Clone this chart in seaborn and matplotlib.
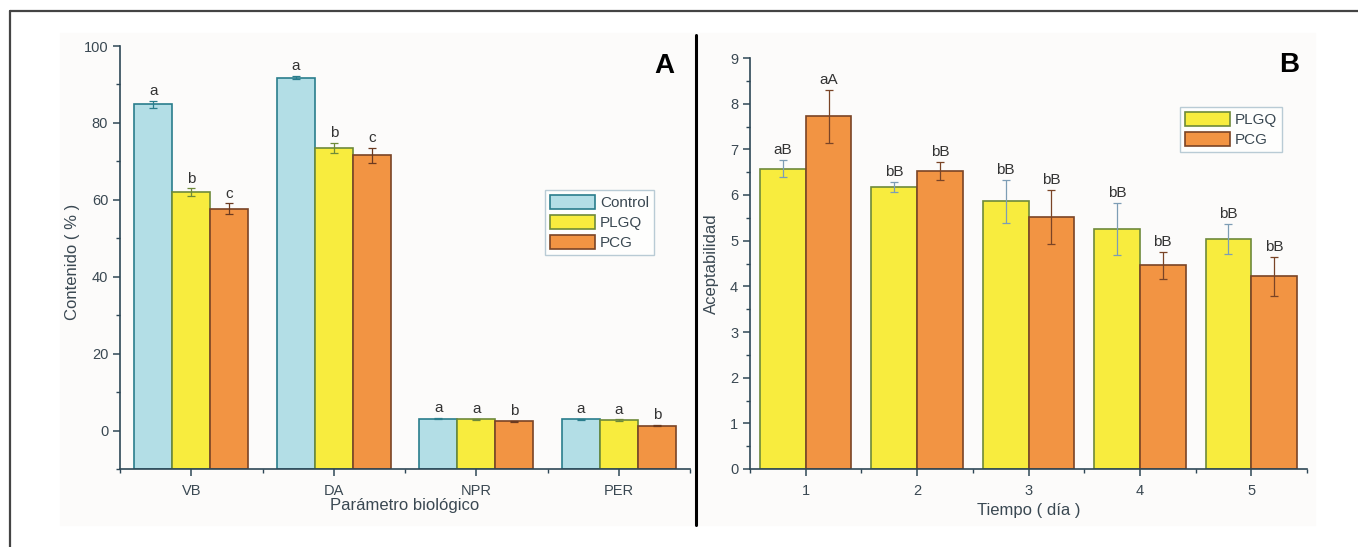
import numpy as np
import pandas as pd
import matplotlib.pyplot as plt
import seaborn as sns
from matplotlib.patches import Patch, Rectangle
from matplotlib.lines import Line2D
from matplotlib.ticker import MultipleLocator, FixedLocator

# ---- panel A: parametros biologicos
parametros = ['VB', 'DA', 'NPR', 'PER']
grupos_a = ['Control', 'PLGQ', 'PCG']
control = [84.8, 91.8, 3.1, 2.9]
control_err = [1.0, 0.5, 0.2, 0.2]
plgq_a = [62.0, 73.6, 2.9, 2.7]
plgq_a_err = [1.0, 1.3, 0.2, 0.2]
pcg_a = [57.7, 71.6, 2.4, 1.3]
pcg_a_err = [1.4, 2.0, 0.2, 0.2]
letras_control = ['a', 'a', 'a', 'a']
letras_plgq_a = ['b', 'b', 'a', 'a']
letras_pcg_a = ['c', 'c', 'b', 'b']

# ---- panel B: aceptabilidad por dia
dias = ['1', '2', '3', '4', '5']
grupos_b = ['PLGQ', 'PCG']
plgq_b = [6.58, 6.18, 5.86, 5.26, 5.03]
plgq_b_err = [0.19, 0.11, 0.47, 0.57, 0.33]
pcg_b = [7.72, 6.52, 5.52, 4.46, 4.22]
pcg_b_err = [0.58, 0.20, 0.60, 0.30, 0.43]
letras_plgq_b = ['aB', 'bB', 'bB', 'bB', 'bB']
letras_pcg_b = ['aA', 'bB', 'bB', 'bB', 'bB']

relleno = {'Control': '#b3dee6', 'PLGQ': '#f8ec3e', 'PCG': '#f29443'}
borde = {'Control': '#2a7d8c', 'PLGQ': '#6e8a3a', 'PCG': '#7a4426'}
eje = '#2e4756'
texto = '#3a4852'

sns.set_style('ticks')
plt.rcParams['font.family'] = ['Liberation Sans', 'DejaVu Sans']

df_a = pd.DataFrame({
    'parametro': parametros * 3,
    'grupo': ['Control'] * 4 + ['PLGQ'] * 4 + ['PCG'] * 4,
    'valor': control + plgq_a + pcg_a,
})
df_b = pd.DataFrame({
    'dia': dias * 2,
    'grupo': ['PLGQ'] * 5 + ['PCG'] * 5,
    'valor': plgq_b + pcg_b,
})

fig = plt.figure(figsize=(13.58, 5.47), dpi=100)
W, H = 1358, 547

# fondo muy claro de los paneles y marco exterior
fig.patches.append(Rectangle((60 / W, 1 - 525 / H), 635 / W, 492 / H,
                             transform=fig.transFigure, color='#fcfbfa', zorder=-5))
fig.patches.append(Rectangle((698 / W, 1 - 525 / H), 617 / W, 492 / H,
                             transform=fig.transFigure, color='#fcfbfa', zorder=-5))
fig.add_artist(Line2D([10 / W, 10 / W], [0, 1 - 11 / H], color='#444444', lw=1.6))
fig.add_artist(Line2D([10 / W, 1], [1 - 11 / H, 1 - 11 / H], color='#444444', lw=1.6))
fig.add_artist(Line2D([696 / W, 696 / W], [1 - 525 / H, 1 - 35 / H], color='black', lw=2.2))

ax_a = fig.add_axes([120 / W, 1 - 469 / H, 570 / W, 423 / H])
ax_b = fig.add_axes([750 / W, 1 - 469 / H, 557 / W, 411 / H])
for ax in (ax_a, ax_b):
    ax.set_facecolor('none')


def estilo(ax):
    sns.despine(ax=ax)
    for s in ('left', 'bottom'):
        ax.spines[s].set_color(eje)
        ax.spines[s].set_linewidth(1.2)
    ax.tick_params(which='major', direction='out', length=5, width=1.1,
                   color=eje, labelcolor=texto, labelsize=10.5)
    ax.tick_params(axis='x', which='major', pad=6)
    ax.tick_params(which='minor', direction='out', length=3, width=1.0, color=eje)


def barras(ax, data, x, orden, grupos, ancho, errores, letras, err_col, base=0):
    sns.barplot(data=data, x=x, y='valor', hue='grupo', order=orden,
                hue_order=grupos, palette=relleno, width=ancho, errorbar=None,
                saturation=1, legend=False, ax=ax)
    for cont, g, err, let in zip(ax.containers, grupos, errores, letras):
        cx, cy = [], []
        for p in cont.patches:
            p.set_edgecolor(borde[g])
            p.set_linewidth(1.2)
            h = p.get_height()
            # las barras arrancan desde el borde inferior del eje (estilo Origin)
            p.set_y(base)
            p.set_height(h - base)
            cx.append(p.get_x() + p.get_width() / 2)
            cy.append(h)
        ax.errorbar(cx, cy, yerr=err, fmt='none', ecolor=err_col[g],
                    elinewidth=0.9, capsize=3, capthick=0.9, zorder=3)
        for xx, yy, e, l in zip(cx, cy, err, let):
            ax.annotate(l, (xx, yy + e), xytext=(0, 2), textcoords='offset points',
                        ha='center', va='bottom', fontsize=11, color='#333333')


# ---- A
barras(ax_a, df_a, 'parametro', parametros, grupos_a, 0.8,
       [control_err, plgq_a_err, pcg_a_err],
       [letras_control, letras_plgq_a, letras_pcg_a],
       {'Control': '#2a7d8c', 'PLGQ': '#6e8a3a', 'PCG': '#6b3a20'}, base=-10)
estilo(ax_a)
ax_a.set_xlim(-0.5, 3.5)
ax_a.set_ylim(-10, 100)
ax_a.set_yticks([0, 20, 40, 60, 80, 100])
ax_a.yaxis.set_minor_locator(MultipleLocator(10))
ax_a.xaxis.set_minor_locator(FixedLocator([-0.5, 0.5, 1.5, 2.5, 3.5]))
ax_a.set_xlabel('Parámetro biológico', fontsize=12, color=texto)
ax_a.set_ylabel('Contenido ( % )', fontsize=12, color=texto)
ax_a.xaxis.set_label_coords(0.5, -0.068)
ax_a.yaxis.set_label_coords(-0.07, 0.49)
ax_a.text(0.955, 0.953, 'A', transform=ax_a.transAxes, fontsize=20,
          fontweight='bold', ha='center', va='center', color='black')
ax_a.legend(handles=[Patch(facecolor=relleno[g], edgecolor=borde[g], lw=1.2, label=g)
                     for g in grupos_a],
            loc='upper left', bbox_to_anchor=(545 / W, 1 - 190 / H),
            bbox_transform=fig.transFigure, fontsize=11, frameon=True,
            fancybox=False, edgecolor='#a8bfcc', handlelength=3.0,
            handleheight=1.1, labelspacing=0.3, borderpad=0.3,
            handletextpad=0.3, borderaxespad=0, labelcolor=texto)

# ---- B
barras(ax_b, df_b, 'dia', dias, grupos_b, 0.82,
       [plgq_b_err, pcg_b_err], [letras_plgq_b, letras_pcg_b],
       {'PLGQ': '#7d9db5', 'PCG': '#7a4426'})
estilo(ax_b)
ax_b.set_xlim(-0.5, 4.5)
ax_b.set_ylim(0, 9)
ax_b.set_yticks(range(0, 10))
ax_b.yaxis.set_minor_locator(MultipleLocator(0.5))
ax_b.xaxis.set_minor_locator(FixedLocator([-0.5, 0.5, 1.5, 2.5, 3.5, 4.5]))
ax_b.set_xlabel('Tiempo ( día )', fontsize=12, color=texto)
ax_b.set_ylabel('Aceptabilidad', fontsize=12, color=texto)
ax_b.xaxis.set_label_coords(0.5, -0.083)
ax_b.yaxis.set_label_coords(-0.056, 0.5)
ax_b.text(0.968, 0.983, 'B', transform=ax_b.transAxes, fontsize=20,
          fontweight='bold', ha='center', va='center', color='black')
ax_b.legend(handles=[Patch(facecolor=relleno[g], edgecolor=borde[g], lw=1.2, label=g)
                     for g in grupos_b],
            loc='upper left', bbox_to_anchor=(1180 / W, 1 - 107 / H),
            bbox_transform=fig.transFigure, fontsize=11, frameon=True,
            fancybox=False, edgecolor='#a8bfcc', handlelength=3.0,
            handleheight=1.1, labelspacing=0.3, borderpad=0.3,
            handletextpad=0.3, borderaxespad=0, labelcolor=texto)

fig.savefig('out.png', dpi=100)
